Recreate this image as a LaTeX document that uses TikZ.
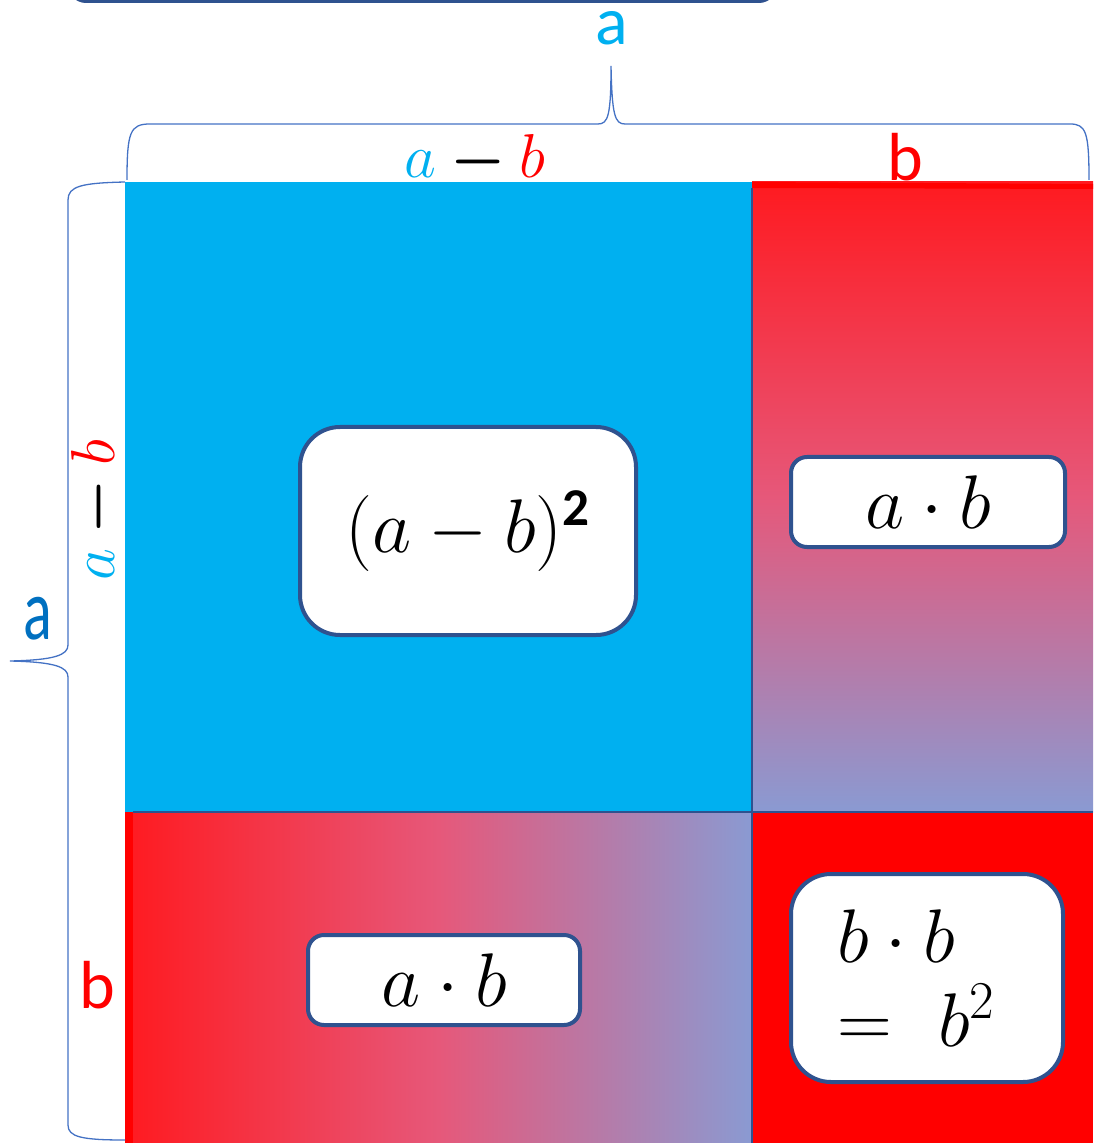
\RequirePackage{fix-cm}
\documentclass[tikz,border=0pt]{standalone}
\usepackage{amsmath}
\usepackage{fontspec}
\usepackage{xcolor}
\usepackage{tikz}
\usetikzlibrary{positioning}
\newfontfamily\labelfont{Carlito}
\definecolor{skyblue}{HTML}{00B0F0}
\definecolor{frameblue}{HTML}{2F528F}
\definecolor{bracecol}{HTML}{4472C4}
\definecolor{labelblue}{HTML}{0070C0}
\definecolor{lavender}{HTML}{8A9AD2}
\definecolor{gradred}{HTML}{FF1A20}
\definecolor{gradpink}{HTML}{E6587A}
\definecolor{pure}{HTML}{FF0000}

\begin{document}
\begin{tikzpicture}[x=0.5pt, y=-0.5pt,
    termbox/.style={draw=frameblue, line width=2pt, fill=white, inner sep=0pt,
      font=\fontsize{38}{46}\selectfont},
    sidelabel/.style={inner sep=0pt, font=\labelfont\fontsize{34}{40}\selectfont},
    mathlabel/.style={inner sep=0pt, font=\fontsize{31}{36}\selectfont},
    bracepath/.style={draw=bracecol, line width=0.65pt}]
    \clip (0,0) rectangle (1093,1143);
    \useasboundingbox (0,0) rectangle (1093,1143);

    % box cut off at the top edge
    \draw[frameblue, line width=2pt, rounded corners=8pt] (70,-80) rectangle (775,1);

    % the four parts of the square
    \fill[skyblue] (125,182) rectangle (752,812);
    \shade[top color=gradred, bottom color=lavender, middle color=gradpink] (752,182) rectangle (1093,812);
    \fill[pure] (752,182) -- (1093,184) -- (1093,189) -- (752,188) -- cycle;
    \shade[left color=gradred, right color=lavender, middle color=gradpink] (125,812) rectangle (752,1143);
    \fill[pure] (125,812) rectangle (133,1143);
    \fill[pure] (752,812) rectangle (1093,1143);
    \draw[frameblue, line width=0.8pt] (133,812) -- (1093,812);
    \draw[frameblue, line width=0.8pt] (752,188) -- (752,1143);

    % terms
    \node[termbox, rounded corners=20pt, minimum width=168pt, minimum height=104pt] (sq) at (468,531)
        {$(a-b)^{\text{\labelfont\bfseries 2}}$};
    \node[termbox, rounded corners=8pt, minimum width=137pt, minimum height=45pt] (abtop) at (928,502)
        {$a\cdot b$};
    \node[termbox, rounded corners=8pt, minimum width=136pt, minimum height=45pt] (abbot) at (444,980)
        {$a\cdot b$};
    \node[termbox, rounded corners=20pt, minimum width=136pt, minimum height=104pt, text width=90pt,
        align=left, font=\fontsize{38}{42}\selectfont] (bb) at (927,978)
        {\mbox{$b\cdot b$}\\\mbox{$=\ b^2$}};

    % side lengths
    \node[sidelabel, text=skyblue] (topa) at (612,28) {a};
    \node[mathlabel] (topamb) at (475,160) {$\color{skyblue}a\mathbin{\color{black}\boldsymbol{-}}\color{pure}b$};
    \node[sidelabel, text=pure] (topb) at (905,157) {b};
    \node[sidelabel, text=labelblue, font=\labelfont\fontsize{30}{36}\selectfont] (lefta) at (38,619)
        {\scalebox{1}[1.45]{a}};
    \node[mathlabel, rotate=90] (leftamb) at (97,510) {$\color{skyblue}a\mathbin{\color{black}\boldsymbol{-}}\color{pure}b$};
    \node[sidelabel, text=pure] (leftb) at (97,985) {b};

    % braces
    \draw[bracepath] (127,180) .. controls (127,132) and (130,124) .. (150,124) -- (598,124)
        .. controls (608,124) and (611,116) .. (611,66)
        .. controls (612,116) and (615,124) .. (625,124) -- (1070,124)
        .. controls (1086,124) and (1089,132) .. (1089,180);
    \draw[bracepath] (125,182) .. controls (82,183) and (68,186) .. (68,200) -- (68,645)
        .. controls (68,655) and (55,660) .. (10,661)
        .. controls (55,662) and (68,667) .. (68,677) -- (68,1125)
        .. controls (68,1137) and (82,1140) .. (125,1140);
\end{tikzpicture}
\end{document}
